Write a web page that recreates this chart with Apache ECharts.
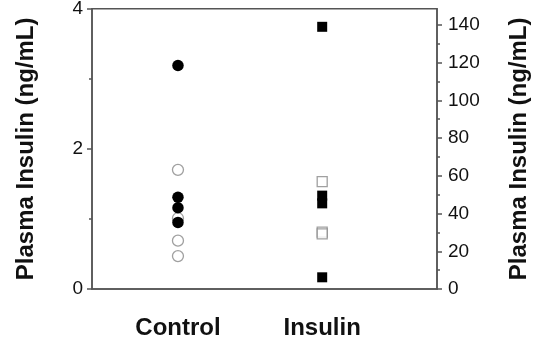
<!DOCTYPE html>
<html>
<head>
<meta charset="utf-8">
<script src="https://cdn.jsdelivr.net/npm/echarts@6/dist/echarts.min.js"></script>
<style>
  html, body { margin: 0; padding: 0; background: #fff; }
  #chart { width: 533px; height: 341px; }
</style>
</head>
<body>
<div id="chart"></div>
<script>
// groups on the x axis
const categories = ['Control', 'Insulin'];
const categoryPos = [1, 2];

// Control values, left axis (ng/mL)
const controlFilled = [3.19, 1.31, 1.16, 0.95];
const controlOpen = [1.70, 1.01, 0.69, 0.47];

// Insulin values, right axis (ng/mL)
const insulinFilled = [139, 49.5, 45.4, 6.2];
const insulinOpen = [56.9, 30.2, 29.2];

// tick labels
const leftTicks = [0, 2, 4];
const rightTicks = [0, 20, 40, 60, 80, 100, 120, 140];
const rightMinorTicks = [10, 30, 50, 70, 90, 110, 130];

const FONT = 'Liberation Sans, Arial, sans-serif';
const AXIS_COLOR = '#555';

const chart = echarts.init(document.getElementById('chart'));

const toPoints = (x, arr) => arr.map(v => [x, v]);

const options = {
    animation: false,
    grid: {
        left: 92,
        right: 96,
        top: 8.7,
        bottom: 52,
        outerBoundsMode: 'none',
        containLabel: false,
        show: true,
        borderColor: AXIS_COLOR,
        borderWidth: 1.5,
        backgroundColor: 'transparent'
    },
    xAxis: {
        type: 'value',
        min: 0.404,
        max: 2.796,
        axisLine: { show: true, onZero: false, lineStyle: { color: AXIS_COLOR, width: 1.5 } },
        axisTick: { show: false },
        splitLine: { show: false },
        axisLabel: {
            customValues: categoryPos,
            formatter: v => categories[categoryPos.indexOf(v)] || '',
            margin: 27,
            fontSize: 24,
            fontWeight: 'bold',
            fontFamily: FONT,
            color: '#111'
        }
    },
    yAxis: [{
        type: 'value',
        position: 'left',
        min: 0,
        max: 4,
        interval: 2,
        name: 'Plasma Insulin (ng/mL)',
        nameLocation: 'middle',
        nameRotate: 90,
        nameGap: 54,
        nameTextStyle: { fontSize: 24, fontWeight: 'bold', fontFamily: FONT, color: '#111' },
        axisLine: { show: true, lineStyle: { color: AXIS_COLOR, width: 1.5 } },
        axisTick: { show: true, length: 5, lineStyle: { color: AXIS_COLOR, width: 1.5 } },
        minorTick: { show: true, splitNumber: 2, length: 3, lineStyle: { color: AXIS_COLOR, width: 1.5 } },
        splitLine: { show: false },
        axisLabel: {
            customValues: leftTicks,
            margin: 9,
            fontSize: 19,
            fontFamily: FONT,
            color: '#111'
        }
    }, {
        type: 'value',
        position: 'right',
        min: 0,
        max: 148.6,
        name: 'Plasma Insulin (ng/mL)',
        nameLocation: 'middle',
        nameRotate: 90,
        nameGap: 70,
        nameTextStyle: { fontSize: 24, fontWeight: 'bold', fontFamily: FONT, color: '#111' },
        axisLine: { show: true, lineStyle: { color: AXIS_COLOR, width: 1.5 } },
        axisTick: { show: true, customValues: rightTicks, length: 5, lineStyle: { color: AXIS_COLOR, width: 1.5 } },
        splitLine: { show: false },
        axisLabel: {
            customValues: rightTicks,
            margin: 11,
            fontSize: 19,
            fontFamily: FONT,
            color: '#111'
        }
    }, {
        // short ticks between the labelled ones on the right
        type: 'value',
        position: 'right',
        min: 0,
        max: 148.6,
        axisLine: { show: false },
        axisTick: { show: true, customValues: rightMinorTicks, length: 3, lineStyle: { color: AXIS_COLOR, width: 1.5 } },
        axisLabel: { show: false },
        splitLine: { show: false }
    }],
    series: [{
        name: 'Control open',
        type: 'scatter',
        yAxisIndex: 0,
        symbol: 'circle',
        symbolSize: 11,
        itemStyle: { color: '#fff', borderColor: '#888', borderWidth: 1.3 },
        data: toPoints(categoryPos[0], controlOpen)
    }, {
        name: 'Control filled',
        type: 'scatter',
        yAxisIndex: 0,
        symbol: 'circle',
        symbolSize: 11.5,
        itemStyle: { color: '#000', opacity: 1 },
        data: toPoints(categoryPos[0], controlFilled)
    }, {
        name: 'Insulin open',
        type: 'scatter',
        yAxisIndex: 1,
        symbol: 'rect',
        symbolSize: 10,
        itemStyle: { color: '#fff', borderColor: '#888', borderWidth: 1.3 },
        data: toPoints(categoryPos[1], insulinOpen)
    }, {
        name: 'Insulin filled',
        type: 'scatter',
        yAxisIndex: 1,
        symbol: 'rect',
        symbolSize: 10,
        itemStyle: { color: '#000', opacity: 1 },
        data: toPoints(categoryPos[1], insulinFilled)
    }]
};

chart.setOption(options, { notMerge: true });
</script>
</body>
</html>
